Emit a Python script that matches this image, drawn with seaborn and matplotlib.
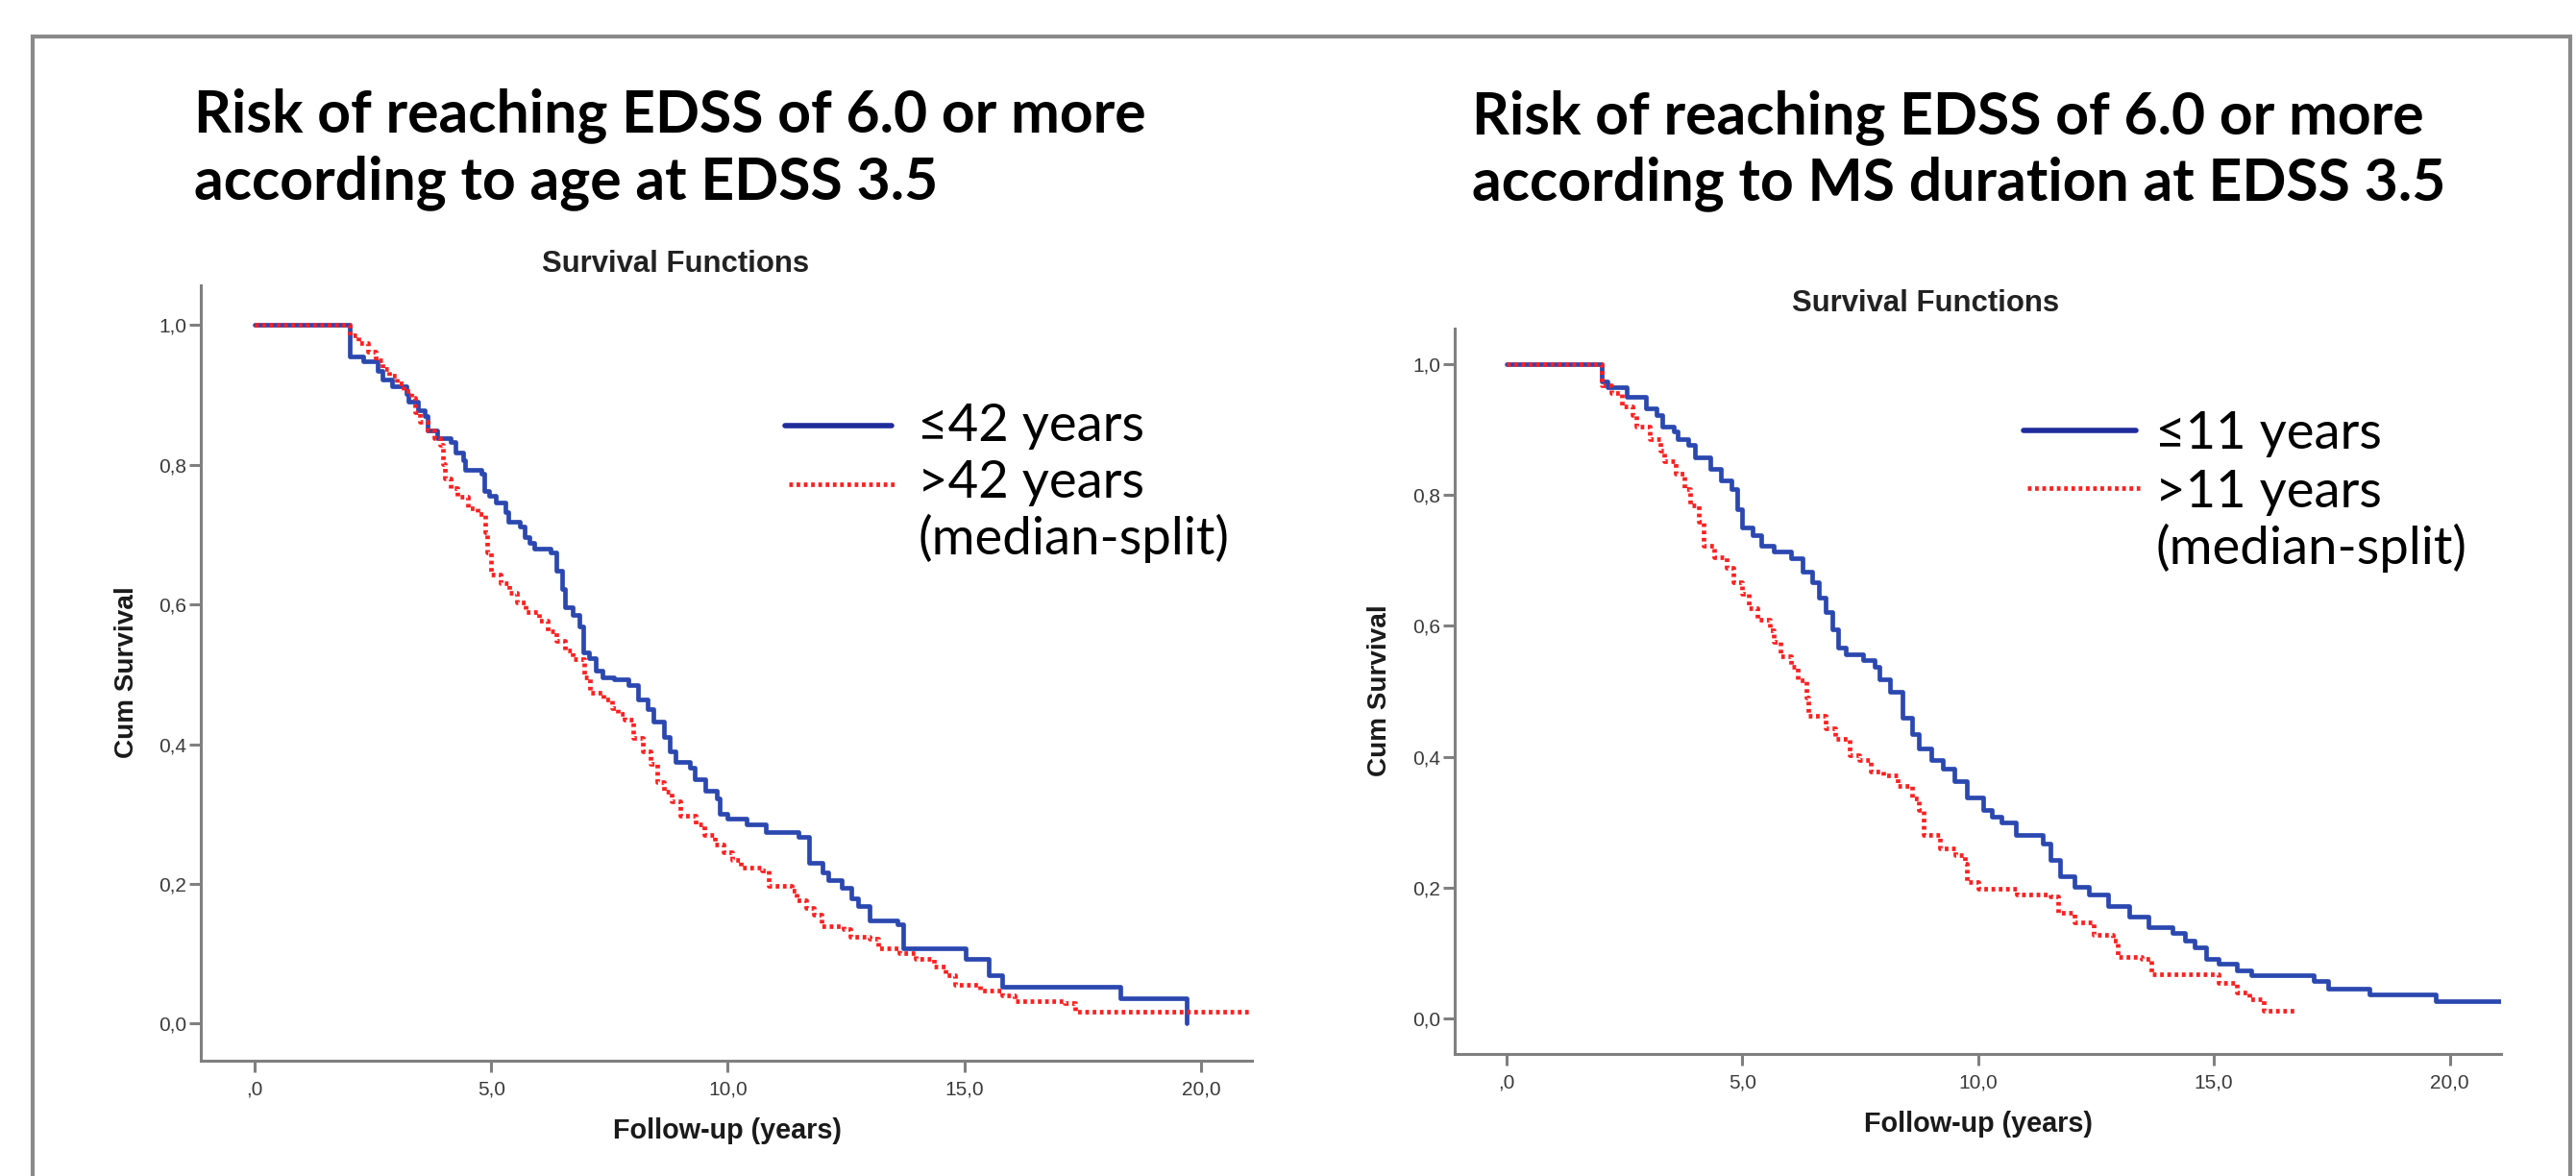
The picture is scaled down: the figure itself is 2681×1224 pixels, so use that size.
import numpy as np
import pandas as pd
import matplotlib
matplotlib.use("Agg")
import matplotlib.pyplot as plt
import seaborn as sns
from matplotlib.lines import Line2D
from matplotlib.patches import Rectangle

# ---------------- data ----------------
# Left panel: by age at EDSS 3.5
age_low_label = "\u226442 years"
age_high_label = ">42 years"
age_low_time = [0, 2.0, 2.3, 2.6, 2.7, 2.9, 3.2, 3.25, 3.45, 3.6, 3.65, 3.85, 4.15, 4.25, 4.4,
                4.45, 4.8, 4.85, 4.95, 5.1, 5.3, 5.35, 5.6, 5.7, 5.8, 5.9, 6.25, 6.38, 6.5, 6.55,
                6.72, 6.86, 6.95, 7.07, 7.2, 7.35, 7.6, 7.9, 8.1, 8.3, 8.42, 8.65, 8.78, 8.9, 9.2,
                9.3, 9.52, 9.77, 9.83, 10.0, 10.4, 10.8, 11.5, 11.72, 12.0, 12.12, 12.4, 12.62,
                12.76, 13.0, 13.58, 13.71, 15.03, 15.52, 15.8, 18.29, 19.7]
age_low_surv = [1.0, 0.955, 0.949, 0.935, 0.922, 0.912, 0.901, 0.891, 0.878, 0.870, 0.849, 0.838,
                0.833, 0.817, 0.806, 0.793, 0.788, 0.762, 0.756, 0.746, 0.733, 0.719, 0.712, 0.696,
                0.688, 0.680, 0.675, 0.648, 0.622, 0.596, 0.585, 0.569, 0.532, 0.524, 0.506, 0.496,
                0.493, 0.485, 0.464, 0.451, 0.433, 0.410, 0.390, 0.375, 0.366, 0.350, 0.334, 0.323,
                0.301, 0.293, 0.285, 0.275, 0.267, 0.230, 0.217, 0.206, 0.195, 0.180, 0.169, 0.148,
                0.143, 0.108, 0.093, 0.069, 0.053, 0.037, 0.0]
age_high_time = [0, 2.0, 2.2, 2.4, 2.55, 2.7, 2.85, 3.0, 3.15, 3.3, 3.38, 3.5, 3.65, 3.8, 3.92,
                 3.97, 4.02, 4.15, 4.28, 4.5, 4.7, 4.87, 4.92, 5.0, 5.2, 5.37, 5.55, 5.73, 6.0, 6.2,
                 6.37, 6.55, 6.73, 6.96, 7.09, 7.37, 7.55, 7.68, 7.82, 8.0, 8.2, 8.36, 8.5, 8.65,
                 8.82, 9.0, 9.32, 9.5, 9.72, 9.9, 10.09, 10.27, 10.72, 10.86, 11.35, 11.45, 11.65,
                 11.81, 11.99, 12.44, 12.58, 12.99, 13.17, 13.62, 13.98, 14.35, 14.6, 14.8, 15.34,
                 15.8, 16.07, 17.11, 17.34, 21.07]
age_high_surv = [1.0, 0.986, 0.975, 0.962, 0.950, 0.938, 0.928, 0.917, 0.906, 0.896, 0.875, 0.862,
                 0.849, 0.838, 0.828, 0.801, 0.780, 0.767, 0.754, 0.738, 0.730, 0.704, 0.675, 0.643,
                 0.630, 0.617, 0.603, 0.590, 0.577, 0.562, 0.548, 0.535, 0.522, 0.496, 0.474, 0.464,
                 0.452, 0.443, 0.435, 0.409, 0.390, 0.372, 0.346, 0.332, 0.319, 0.298, 0.285, 0.270,
                 0.256, 0.245, 0.235, 0.224, 0.219, 0.198, 0.190, 0.177, 0.166, 0.156, 0.140, 0.135,
                 0.124, 0.122, 0.108, 0.101, 0.093, 0.082, 0.070, 0.056, 0.048, 0.040, 0.032, 0.029,
                 0.017, 0.017]

# Right panel: by MS duration at EDSS 3.5
dur_low_label = "\u226411 years"
dur_high_label = ">11 years"
dur_low_time = [0, 2.02, 2.13, 2.54, 2.95, 3.17, 3.31, 3.54, 3.63, 3.85, 3.99, 4.31, 4.54, 4.76,
                4.9, 4.99, 5.22, 5.4, 5.67, 6.04, 6.27, 6.49, 6.63, 6.77, 6.9, 7.04, 7.2, 7.55, 7.8,
                7.9, 8.14, 8.39, 8.59, 8.75, 9.0, 9.25, 9.5, 9.76, 10.1, 10.3, 10.5, 10.8, 11.38,
                11.54, 11.74, 12.04, 12.35, 12.75, 13.21, 13.62, 14.12, 14.38, 14.58, 14.83, 15.09,
                15.49, 15.8, 17.12, 17.42, 18.29, 19.71, 21.08]
dur_low_surv = [1.0, 0.973, 0.964, 0.950, 0.933, 0.922, 0.905, 0.897, 0.885, 0.877, 0.857, 0.840,
                0.823, 0.809, 0.778, 0.750, 0.739, 0.722, 0.714, 0.703, 0.683, 0.666, 0.643, 0.621,
                0.595, 0.567, 0.556, 0.548, 0.538, 0.518, 0.500, 0.460, 0.434, 0.412, 0.395, 0.382,
                0.362, 0.338, 0.318, 0.308, 0.300, 0.280, 0.268, 0.243, 0.218, 0.201, 0.189, 0.172,
                0.156, 0.139, 0.130, 0.119, 0.108, 0.091, 0.083, 0.074, 0.066, 0.057, 0.046, 0.037,
                0.026, 0.026]
dur_high_time = [0, 2.02, 2.22, 2.44, 2.67, 2.76, 3.03, 3.26, 3.35, 3.58, 3.76, 3.9, 4.08, 4.17,
                 4.4, 4.67, 4.81, 4.99, 5.13, 5.31, 5.58, 5.67, 5.81, 6.04, 6.17, 6.36, 6.4, 6.77,
                 6.97, 7.27, 7.48, 7.73, 7.98, 8.29, 8.59, 8.75, 8.85, 9.2, 9.51, 9.71, 9.76, 10.01,
                 10.83, 11.54, 11.69, 12.04, 12.45, 12.86, 12.96, 13.46, 13.67, 14.89, 15.09, 15.49,
                 15.75, 16.05, 16.76]
dur_high_surv = [1.0, 0.967, 0.956, 0.936, 0.922, 0.905, 0.885, 0.868, 0.852, 0.832, 0.809, 0.784,
                 0.759, 0.722, 0.705, 0.688, 0.666, 0.649, 0.627, 0.610, 0.593, 0.576, 0.553, 0.537,
                 0.517, 0.491, 0.463, 0.444, 0.428, 0.403, 0.395, 0.378, 0.372, 0.355, 0.336, 0.319,
                 0.280, 0.260, 0.249, 0.237, 0.209, 0.198, 0.190, 0.187, 0.161, 0.147, 0.128, 0.119,
                 0.094, 0.091, 0.068, 0.068, 0.054, 0.040, 0.029, 0.012, 0.012]

x_ticks = [0, 5, 10, 15, 20]
x_tick_labels = [",0", "5,0", "10,0", "15,0", "20,0"]
y_ticks = [0.0, 0.2, 0.4, 0.6, 0.8, 1.0]
y_tick_labels = ["0,0", "0,2", "0,4", "0,6", "0,8", "1,0"]

title_left = ["Risk of reaching EDSS of 6.0 or more", "according to age at EDSS 3.5"]
title_right = ["Risk of reaching EDSS of 6.0 or more", "according to MS duration at EDSS 3.5"]
panel_title = "Survival Functions"
y_label = "Cum Survival"
x_label = "Follow-up (years)"
split_note = "(median-split)"

# ---------------- style ----------------
sns.set_theme(style="white")
plt.rcParams['font.family'] = ['Liberation Sans', 'DejaVu Sans']

W, H, DPI = 2681, 1224, 100
fig = plt.figure(figsize=(W / DPI, H / DPI), dpi=DPI)
fig.patch.set_facecolor("white")

def fx(px):
    return px / W

def fy(py):
    return 1 - py / H

BLUE = "#2b48b0"
BLUE_LEG = "#1f2c9c"
RED = "#ff1f1f"
AXC = "#808080"
LW = 3.4
DOT = (0.8, 0.8)

panels = [
    dict(rect=(209, 297, 1303, 1104), xlim=(-1.14, 21.08), ylim=(-0.053, 1.057),
         t1=age_low_time, s1=age_low_surv, t2=age_high_time, s2=age_high_surv,
         g1=age_low_label, g2=age_high_label),
    dict(rect=(1514, 342, 2603, 1097), xlim=(-1.10, 21.09), ylim=(-0.0543, 1.0543),
         t1=dur_low_time, s1=dur_low_surv, t2=dur_high_time, s2=dur_high_surv,
         g1=dur_low_label, g2=dur_high_label),
]

axes = []
for p in panels:
    x0, y0, x1, y1 = p["rect"]
    ax = fig.add_axes([fx(x0), fy(y1), (x1 - x0) / W, (y1 - y0) / H])
    df = pd.concat([
        pd.DataFrame({"time": p["t1"], "surv": p["s1"], "group": p["g1"]}),
        pd.DataFrame({"time": p["t2"], "surv": p["s2"], "group": p["g2"]}),
    ], ignore_index=True)
    sns.lineplot(data=df, x="time", y="surv", hue="group", style="group",
                 palette={p["g1"]: BLUE, p["g2"]: RED},
                 dashes={p["g1"]: "", p["g2"]: DOT},
                 estimator=None, sort=False, drawstyle="steps-post",
                 linewidth=LW, legend=False, ax=ax)
    ax.set_xlim(*p["xlim"])
    ax.set_ylim(*p["ylim"])
    ax.set_xticks(x_ticks)
    ax.set_xticklabels(x_tick_labels)
    ax.set_yticks(y_ticks)
    ax.set_yticklabels(y_tick_labels)
    ax.set_xlabel("")
    ax.set_ylabel("")
    sns.despine(ax=ax)
    for s in ("left", "bottom"):
        ax.spines[s].set_color(AXC)
        ax.spines[s].set_linewidth(2.2)
    ax.tick_params(axis="both", which="both", bottom=True, left=True, direction="out",
                   length=8.5, width=2.2, color=AXC, labelsize=15, labelcolor="#3a3a3a")
    ax.tick_params(axis="x", pad=6)
    ax.tick_params(axis="y", pad=2)
    ax.set_facecolor("white")
    axes.append(ax)

# frame around the whole slide
fig.add_artist(Rectangle((fx(34), fy(1300)), (2675 - 34) / W, (1300 - 38) / H,
                         transform=fig.transFigure, fill=False, edgecolor="#8a8a8a",
                         linewidth=3, clip_on=False))

fig.canvas.draw()
renderer = fig.canvas.get_renderer()

def fit_size(s, width_px, **kw):
    t = fig.text(0, 0, s, fontsize=20, **kw)
    w = t.get_window_extent(renderer).width
    t.remove()
    return 20 * width_px / w

# titles
title_kw = dict(family=["Lato", "DejaVu Sans"], weight="bold", color="black")
ts = fit_size(title_left[0], 990, **title_kw)
for lines, xl, bl in ((title_left, 202, (137, 207)), (title_right, 1532, (139, 208))):
    for line, b in zip(lines, bl):
        fig.text(fx(xl), fy(b), line, fontsize=ts, ha="left", va="baseline", **title_kw)

# "Survival Functions"
pt_kw = dict(weight="bold", color="#222222")
ps = fit_size(panel_title, 278, **pt_kw)
fig.text(fx(703), fy(275), panel_title, fontsize=ps, ha="center", va="center", **pt_kw)
fig.text(fx(2004), fy(316), panel_title, fontsize=ps, ha="center", va="center", **pt_kw)

# axis labels
al_kw = dict(weight="bold", color="#1a1a1a")
xs = fit_size(x_label, 238, **al_kw)
ys = fit_size(y_label, 178, **al_kw)
fig.text(fx(757), fy(1177), x_label, fontsize=xs, ha="center", va="center", **al_kw)
fig.text(fx(2059), fy(1170), x_label, fontsize=xs, ha="center", va="center", **al_kw)
fig.text(fx(132), fy(700), y_label, fontsize=ys, rotation=90, ha="center", va="center", **al_kw)
fig.text(fx(1436), fy(719), y_label, fontsize=ys, rotation=90, ha="center", va="center", **al_kw)

# custom legends
leg_kw = dict(family=["Lato", "DejaVu Sans"], color="black")
ls = fit_size(split_note, 325, **leg_kw)
legends = [
    dict(line_x=(817, 928), y_blue=443, y_red=504, tx=955, base=(459, 518, 577),
         labels=(age_low_label, age_high_label)),
    dict(line_x=(2106, 2223), y_blue=448, y_red=508, tx=2243, base=(467, 528, 587),
         labels=(dur_low_label, dur_high_label)),
]
for lg in legends:
    xa, xb = lg["line_x"]
    fig.add_artist(Line2D([fx(xa), fx(xb)], [fy(lg["y_blue"])] * 2, transform=fig.transFigure,
                          color=BLUE_LEG, linewidth=LW + 0.6, solid_capstyle="round"))
    fig.add_artist(Line2D([fx(xa + 4), fx(xb + 4)], [fy(lg["y_red"])] * 2, transform=fig.transFigure,
                          color=RED, linewidth=LW, dashes=DOT))
    for s, b in zip(list(lg["labels"]) + [split_note], lg["base"]):
        fig.text(fx(lg["tx"]), fy(b), s, fontsize=ls, ha="left", va="baseline", **leg_kw)

fig.savefig("out.png", dpi=DPI, facecolor="white")
